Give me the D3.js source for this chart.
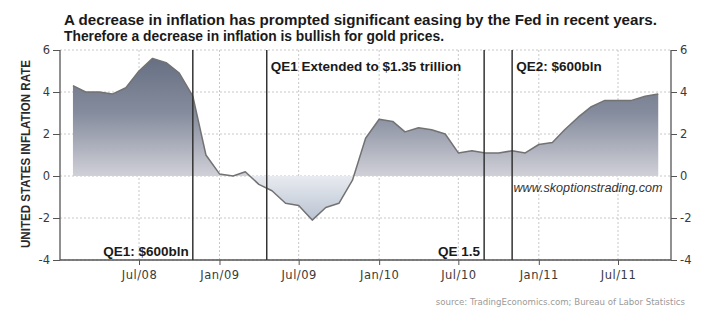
<!DOCTYPE html>
<meta charset="utf-8">
<script src="https://d3js.org/d3.v7.min.js"></script>
<style>
  body { margin: 0; background: #fff; }
</style>
<div id="chart"></div>
<script>

// monthly CPI inflation, Jan 2008 - Sep 2011 (y/y %)
var months = ["2008-01","2008-02","2008-03","2008-04","2008-05","2008-06","2008-07","2008-08","2008-09","2008-10","2008-11","2008-12",
              "2009-01","2009-02","2009-03","2009-04","2009-05","2009-06","2009-07","2009-08","2009-09","2009-10","2009-11","2009-12",
              "2010-01","2010-02","2010-03","2010-04","2010-05","2010-06","2010-07","2010-08","2010-09","2010-10","2010-11","2010-12",
              "2011-01","2011-02","2011-03","2011-04","2011-05","2011-06","2011-07","2011-08","2011-09"];
var inflation = [4.3, 4.0, 4.0, 3.9, 4.2, 5.0, 5.6, 5.4, 4.9, 3.8, 1.0, 0.1,
                 0.0, 0.2, -0.4, -0.7, -1.3, -1.4, -2.1, -1.5, -1.3, -0.2, 1.8, 2.7,
                 2.6, 2.1, 2.3, 2.2, 2.0, 1.1, 1.2, 1.1, 1.1, 1.2, 1.1, 1.5,
                 1.6, 2.2, 2.8, 3.3, 3.6, 3.6, 3.6, 3.8, 3.9];

// fed easing events
var eventDates = ["2008-11-01", "2009-04-19", "2010-08-29", "2010-11-01"];
var eventLabels = ["QE1: $600bln", "QE1 Extended to $1.35 trillion", "QE 1.5", "QE2: $600bln"];

var yTicks = [-4, -2, 0, 2, 4, 6];
var xTickDates = ["2008-07-01", "2009-01-01", "2009-07-01", "2010-01-01", "2010-07-01", "2011-01-01", "2011-07-01"];

var titleLines = ["A decrease in inflation has prompted significant easing by the Fed in recent years.",
                  "Therefore a decrease in inflation is bullish for gold prices."];

//margin
var margin = {top: 50, right: 42, bottom: 69, left: 60},
    width = 713 - margin.left - margin.right,
    height = 329 - margin.top - margin.bottom;

var parseMonth = d3.timeParse("%Y-%m");
var parseDay = d3.timeParse("%Y-%m-%d");

// each month is plotted at the end of the month
var data = months.map(function(m, i) {
  return { date: d3.timeMonth.offset(parseMonth(m), 1), value: inflation[i] };
});

var svg = d3.select("#chart")
  .append("svg")
    .attr("width", 713)
    .attr("height", 329)
    .style("font-family", "'Liberation Sans', Arial, sans-serif");

var g = svg.append("g")
    .attr("transform", "translate(" + margin.left + "," + margin.top + ")");

// x: anchor Jul/08 and Jul/11, then stretch to the plot
var anchor = d3.scaleTime()
  .domain([parseDay("2008-07-01"), parseDay("2011-07-01")])
  .range([79, 558]);
var x = d3.scaleTime()
  .domain([anchor.invert(0), anchor.invert(width)])
  .range([0, width]);

var y = d3.scaleLinear()
  .domain([-4, 6])
  .range([height, 0]);

// gradient fill
var defs = svg.append("defs");
var grad = defs.append("linearGradient")
    .attr("id", "fillGrad")
    .attr("gradientUnits", "userSpaceOnUse")
    .attr("x1", 0).attr("x2", 0)
    .attr("y1", y(6)).attr("y2", y(-4));
var zeroOff = (y(0) - y(6)) / (y(-4) - y(6));
[[0, "#626b7e"], [0.3, "#858c9d"], [zeroOff, "#d0d0d8"], [zeroOff, "#e8ebf0"], [0.8, "#bcc5d3"], [1, "#adb8c9"]]
  .forEach(function(s) {
    grad.append("stop").attr("offset", s[0]).attr("stop-color", s[1]);
  });

// grid
g.append("g").selectAll("line")
  .data(yTicks)
  .enter().append("line")
    .attr("x1", 0).attr("x2", width)
    .attr("y1", function(d) { return y(d); })
    .attr("y2", function(d) { return y(d); })
    .attr("stroke", "#c8c8c8")
    .attr("stroke-dasharray", "2,2");

g.append("g").selectAll("line")
  .data(xTickDates.map(parseDay))
  .enter().append("line")
    .attr("x1", function(d) { return x(d); })
    .attr("x2", function(d) { return x(d); })
    .attr("y1", 0).attr("y2", height)
    .attr("stroke", "#c8c8c8")
    .attr("stroke-dasharray", "2,2");

// area + line
g.append("path")
  .datum(data)
  .attr("fill", "url(#fillGrad)")
  .attr("d", d3.area()
    .x(function(d) { return x(d.date); })
    .y0(y(0))
    .y1(function(d) { return y(d.value); }));

g.append("path")
  .datum(data)
  .attr("fill", "none")
  .attr("stroke", "#727272")
  .attr("stroke-width", 1.5)
  .attr("stroke-linejoin", "round")
  .attr("d", d3.line()
    .x(function(d) { return x(d.date); })
    .y(function(d) { return y(d.value); }));

// axes
var fmt = function(d) { return String(d); };
var yLeft = g.append("g")
  .call(d3.axisLeft(y).tickValues(yTicks).tickFormat(fmt).tickSize(7).tickPadding(3));
var yRight = g.append("g")
  .attr("transform", "translate(" + width + ",0)")
  .call(d3.axisRight(y).tickValues(yTicks).tickFormat(fmt).tickSize(6).tickPadding(3));
var xAxis = g.append("g")
  .attr("transform", "translate(0," + height + ")")
  .call(d3.axisBottom(x).tickValues(xTickDates.map(parseDay))
    .tickFormat(d3.timeFormat("%b/%y")).tickSize(5).tickPadding(6));

[yLeft, yRight, xAxis].forEach(function(a) {
  a.select(".domain").attr("stroke", "#555").attr("stroke-width", 1.3);
  a.selectAll(".tick line").attr("stroke", "#555");
  a.selectAll(".tick text")
    .attr("fill", "#3a3a3a")
    .style("font-family", "'DejaVu Sans', sans-serif")
    .style("font-size", "11.5px");
});
xAxis.selectAll(".tick text").style("letter-spacing", "0.5px");
xAxis.select(".domain").attr("d", "M0,0H" + width);
yLeft.select(".domain").attr("d", "M0,0V" + height);
yRight.select(".domain").attr("d", "M0,0V" + height);

// event lines
var ev = eventDates.map(function(d, i) { return { date: parseDay(d), label: eventLabels[i] }; });
g.append("g").selectAll("line")
  .data(ev)
  .enter().append("line")
    .attr("x1", function(d) { return x(d.date); })
    .attr("x2", function(d) { return x(d.date); })
    .attr("y1", 0).attr("y2", height)
    .attr("stroke", "#333")
    .attr("stroke-width", 1.5);

// event labels: 1st and 3rd at bottom left of line, 2nd and 4th at top right
g.append("g").selectAll("text")
  .data(ev)
  .enter().append("text")
    .attr("x", function(d, i) { return x(d.date) + (i % 2 ? 4 : -4); })
    .attr("y", function(d, i) { return i % 2 ? 21 : height - 4; })
    .attr("text-anchor", function(d, i) { return i % 2 ? "start" : "end"; })
    .attr("fill", "#1a1a1a")
    .style("font-weight", "bold")
    .style("font-size", "13.5px")
    .text(function(d) { return d.label; });

// watermark
g.append("text")
  .attr("x", x(parseDay("2010-11-04")))
  .attr("y", y(0) + 16)
  .attr("fill", "#333")
  .style("font-style", "italic")
  .style("font-size", "12.6px")
  .text("www.skoptionstrading.com");

// y label
svg.append("text")
  .attr("transform", "translate(30," + (margin.top + 104) + ") rotate(-90)")
  .attr("text-anchor", "middle")
  .attr("fill", "#2a2a2a")
  .attr("textLength", 188)
  .attr("lengthAdjust", "spacingAndGlyphs")
  .style("font-family", "'Liberation Sans Narrow', 'Liberation Sans', sans-serif")
  .style("font-weight", "bold")
  .style("font-size", "13.5px")
  .text("UNITED STATES INFLATION RATE");

// title
svg.append("g").selectAll("text")
  .data(titleLines)
  .enter().append("text")
    .attr("x", 64)
    .attr("y", function(d, i) { return 25 + i * 16; })
    .attr("textLength", function(d, i) { return i ? 380 : 593; })
    .attr("lengthAdjust", "spacingAndGlyphs")
    .attr("fill", "#1a1a1a")
    .style("font-weight", "bold")
    .style("font-size", "14.5px")
    .text(function(d) { return d; });

// source
svg.append("text")
  .attr("x", 685)
  .attr("y", 305)
  .attr("text-anchor", "end")
  .attr("fill", "#9a9a9a")
  .style("font-family", "'DejaVu Sans', sans-serif")
  .style("font-size", "8.6px")
  .text("source: TradingEconomics.com; Bureau of Labor Statistics");

</script>
